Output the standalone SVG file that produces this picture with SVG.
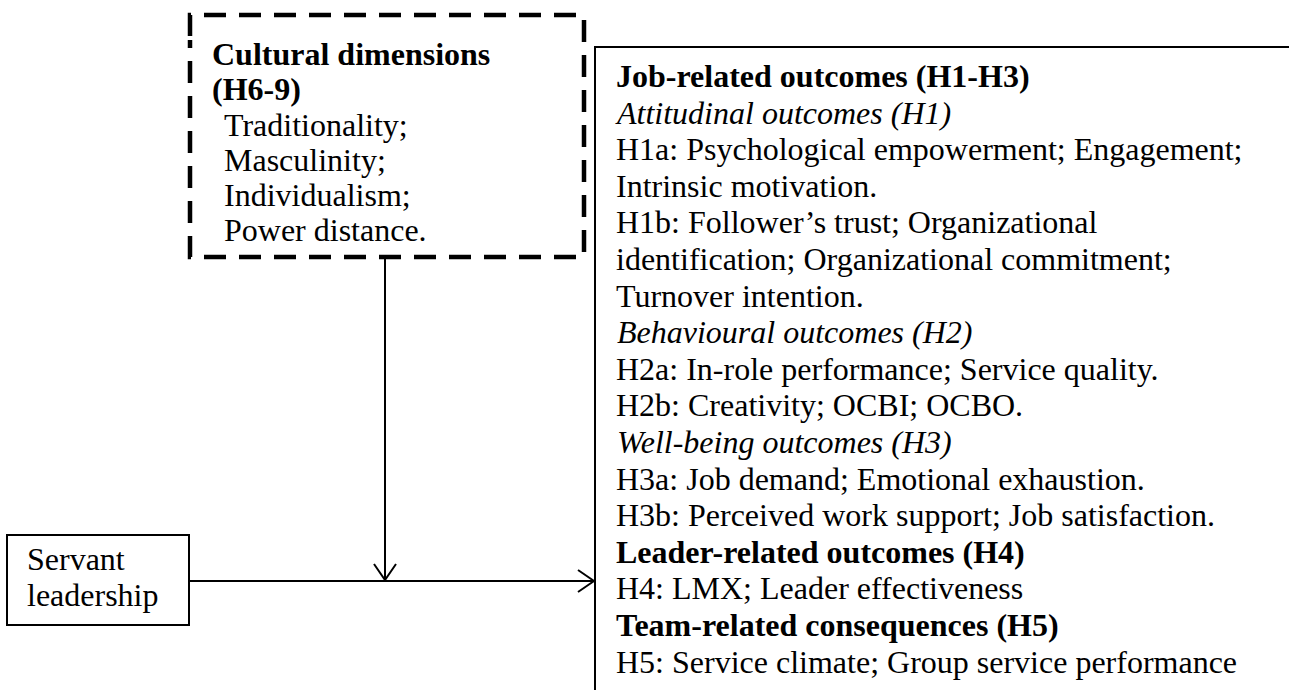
<svg xmlns="http://www.w3.org/2000/svg" width="1289" height="690" viewBox="0 0 1289 690">
  <style>
    .t { font-family: "Liberation Serif", "Times New Roman", serif; font-size: 32px; fill: #000; }
    .b { font-weight: bold; }
    .i { font-style: italic; }
    .box { fill: #fff; stroke: #000; stroke-width: 2; }
    .dash { fill: none; stroke: #000; stroke-width: 4.5; stroke-dasharray: 22 13; }
    .wire { fill: none; stroke: #000; stroke-width: 2; }
  </style>
  <defs>
    <marker id="open-arrow" viewBox="0 0 18 24" refX="17" refY="12" markerWidth="18" markerHeight="24" markerUnits="userSpaceOnUse" orient="auto">
      <path d="M1,1 L17,12 L1,23" fill="none" stroke="#000" stroke-width="2"/>
    </marker>
  </defs>
  <rect width="1289" height="690" fill="#fff"/>

  <!-- moderator: cultural dimensions -->
  <g id="cultural-dimensions">
    <path class="dash" d="M190,40 L190,15 L584,15 L584,257 L190,257 Z" stroke-dashoffset="-4"/>
    <text class="t b" x="212" y="65">Cultural dimensions</text>
    <text class="t b" x="212" y="100">(H6-9)</text>
    <text class="t" x="224" y="136">Traditionality;</text>
    <text class="t" x="224" y="171">Masculinity;</text>
    <text class="t" x="224" y="206">Individualism;</text>
    <text class="t" x="224" y="241">Power distance.</text>
  </g>

  <!-- predictor -->
  <g id="servant-leadership">
    <rect class="box" x="7" y="535" width="182" height="90"/>
    <text class="t" x="27" y="570">Servant</text>
    <text class="t" x="27" y="606">leadership</text>
  </g>

  <!-- outcomes -->
  <g id="outcomes">
    <path class="box" d="M1295,47 L595,47 L595,695"/>
    <text class="t b" x="616" y="87">Job-related outcomes (H1-H3)</text>
    <text class="t i" x="617" y="123.6">Attitudinal outcomes (H1)</text>
    <text class="t" x="616" y="160.2">H1a: Psychological empowerment; Engagement;</text>
    <text class="t" x="616" y="196.8">Intrinsic motivation.</text>
    <text class="t" x="616" y="233.4">H1b: Follower’s trust; Organizational</text>
    <text class="t" x="616" y="270">identification; Organizational commitment;</text>
    <text class="t" x="616" y="306.6">Turnover intention.</text>
    <text class="t i" x="617" y="343.2">Behavioural outcomes (H2)</text>
    <text class="t" x="616" y="379.8">H2a: In-role performance; Service quality.</text>
    <text class="t" x="616" y="416.4">H2b: Creativity; OCBI; OCBO.</text>
    <text class="t i" x="617" y="453">Well-being outcomes (H3)</text>
    <text class="t" x="616" y="489.6">H3a: Job demand; Emotional exhaustion.</text>
    <text class="t" x="616" y="526.2">H3b: Perceived work support; Job satisfaction.</text>
    <text class="t b" x="616" y="562.8">Leader-related outcomes (H4)</text>
    <text class="t" x="616" y="599.4">H4: LMX; Leader effectiveness</text>
    <text class="t b" x="616" y="636">Team-related consequences (H5)</text>
    <text class="t" x="616" y="672.6">H5: Service climate; Group service performance</text>
  </g>

  <!-- connectors -->
  <g id="connectors">
    <line class="wire" x1="189" y1="581" x2="594" y2="581" marker-end="url(#open-arrow)"/>
    <line class="wire" x1="385" y1="257" x2="385" y2="580" marker-end="url(#open-arrow)"/>
  </g>
</svg>
